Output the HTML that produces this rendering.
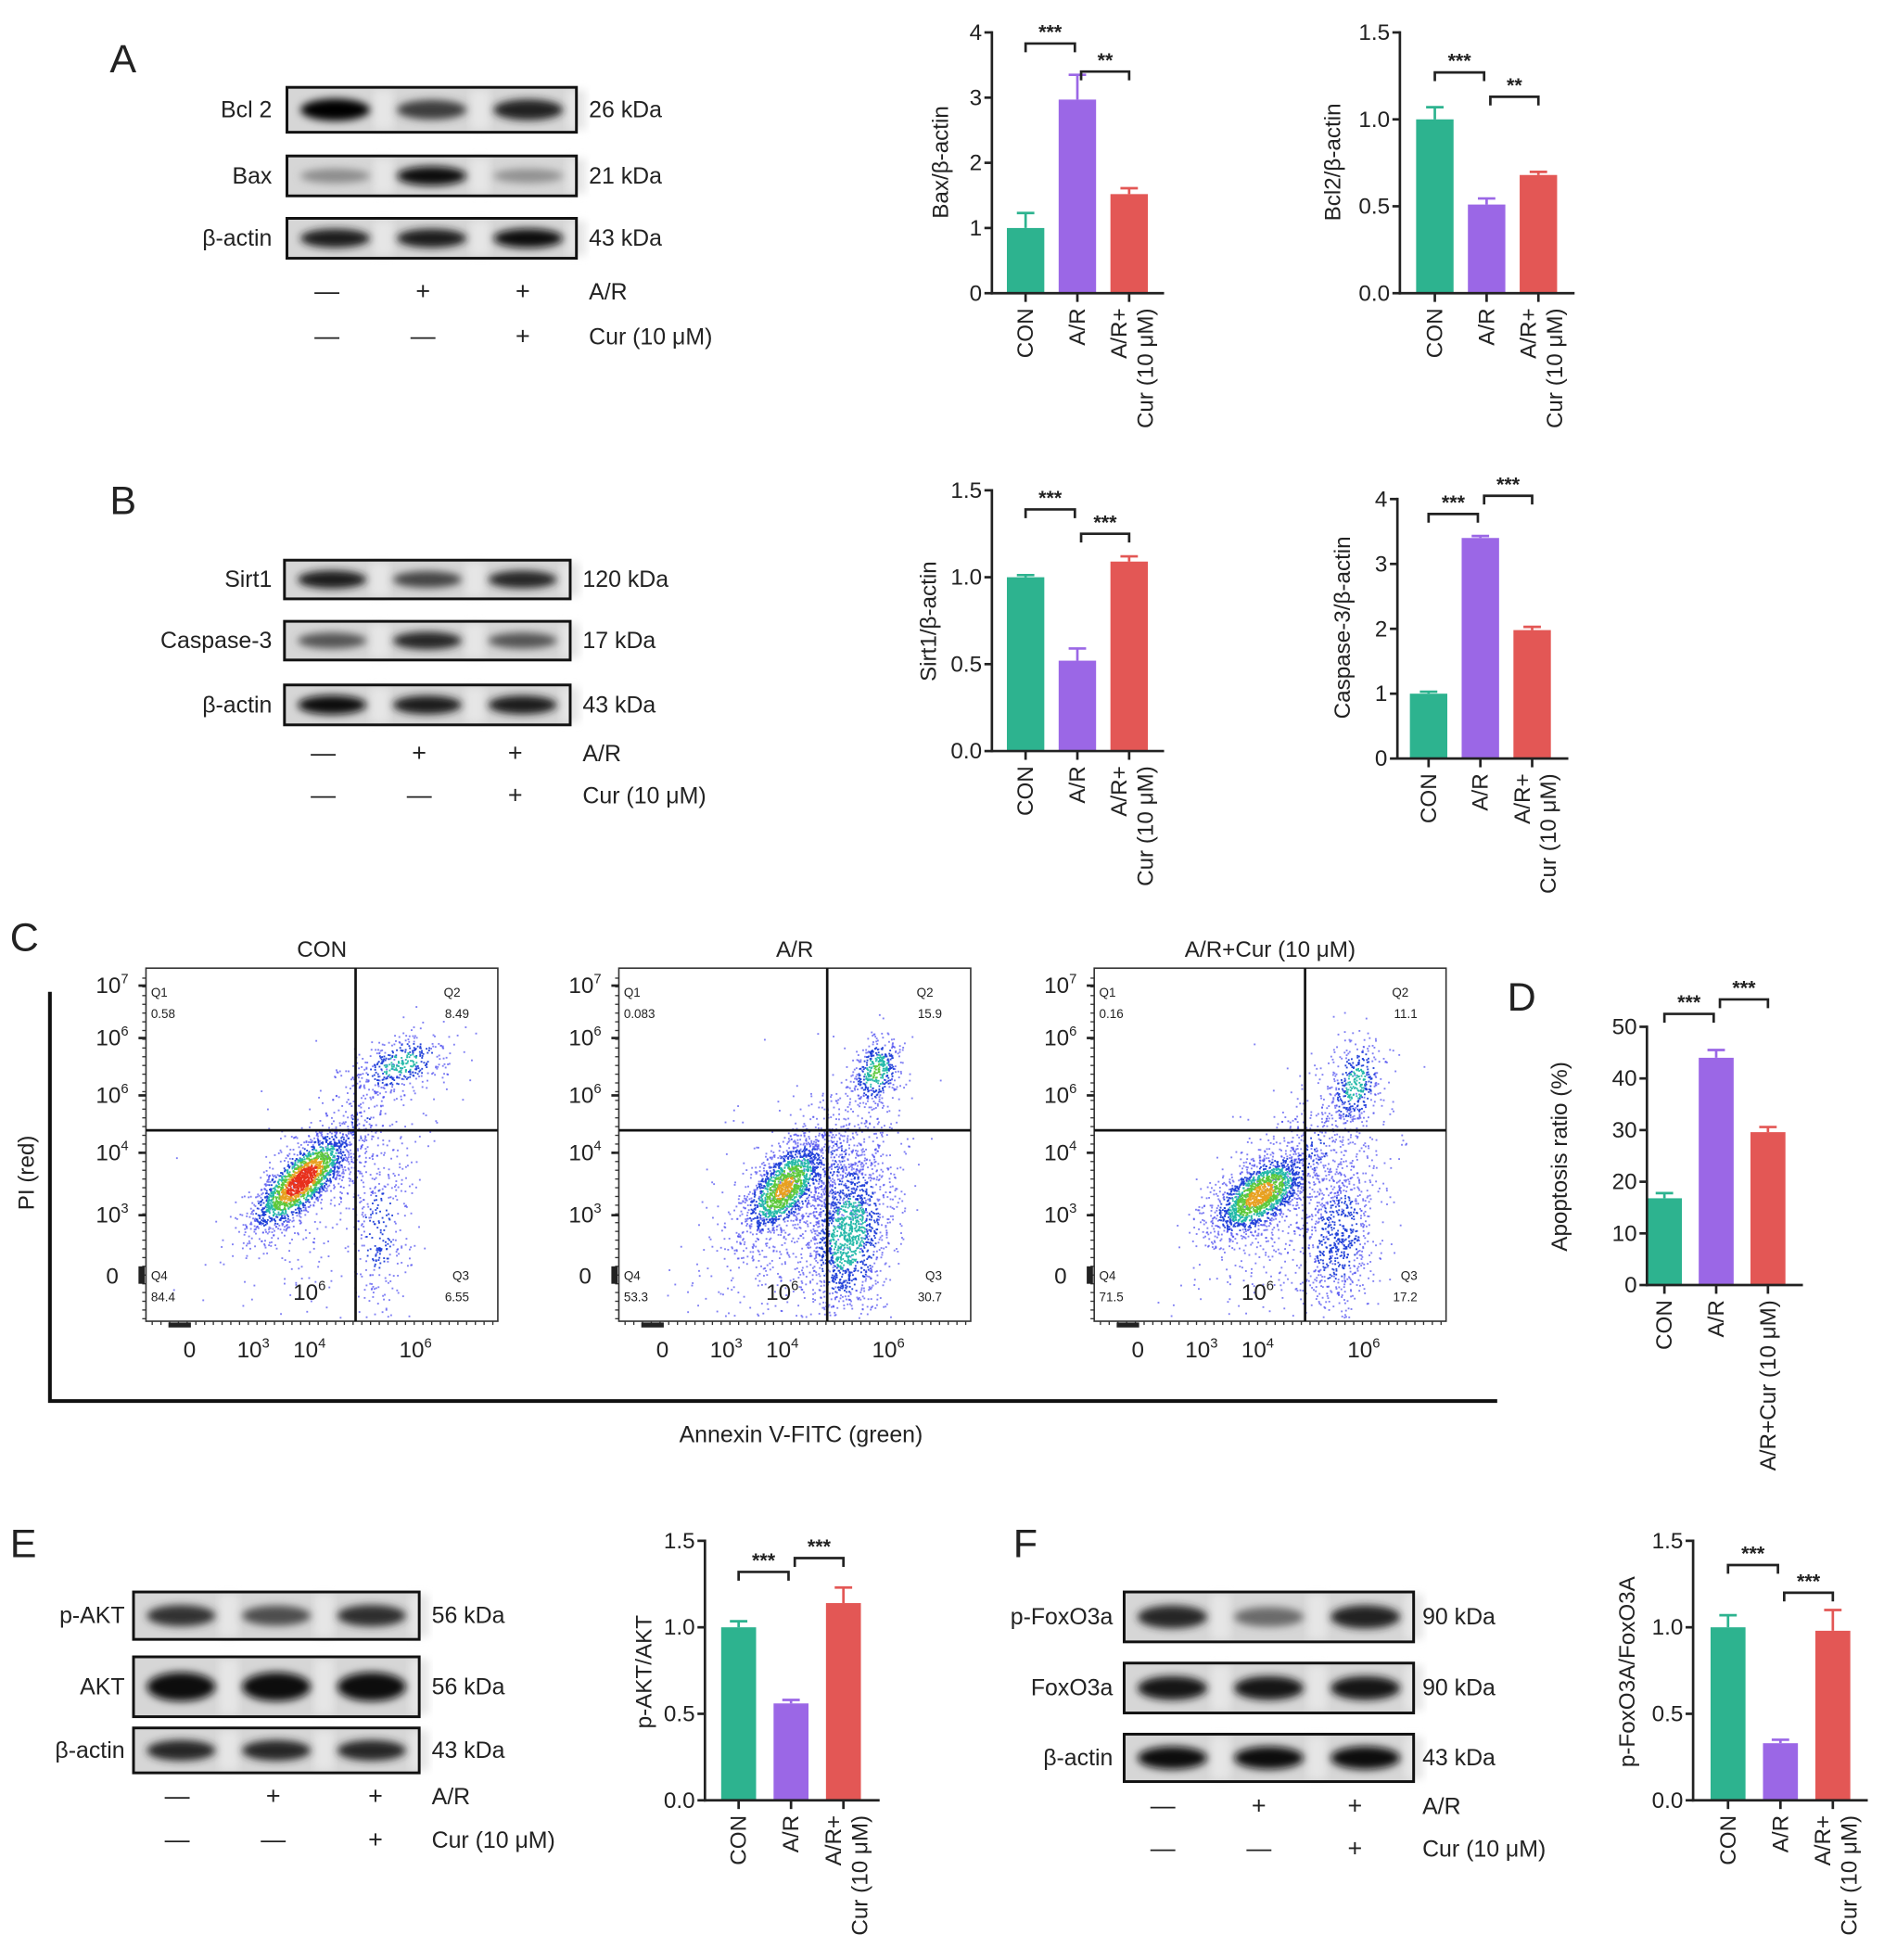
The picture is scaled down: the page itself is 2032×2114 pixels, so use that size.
<!DOCTYPE html>
<html><head><meta charset="utf-8">
<style>
html,body{margin:0;padding:0;background:#fff;}
svg{display:block;}
text{font-family:"Liberation Sans",Arial,sans-serif;fill:#222;}
</style></head>
<body>
<svg id="fig" xmlns="http://www.w3.org/2000/svg" width="2032" height="2114" viewBox="0 0 1510 1571" preserveAspectRatio="none">
<defs>
<filter id="blur" x="-20%" y="-60%" width="140%" height="220%"><feGaussianBlur stdDeviation="3.2"/></filter>
</defs>
<g id="root"></g>
</svg>
<script>
// ---------- DATA ----------
const groups = ["CON", "A/R", "A/R+Cur (10 μM)"];
const baxValues = [1.0, 2.97, 1.52];
const baxErrors = [0.23, 0.38, 0.09];
const baxTicks = [0, 1, 2, 3, 4];
const bcl2Values = [1.0, 0.51, 0.68];
const bcl2Errors = [0.07, 0.035, 0.018];
const bcl2Ticks = ["0.0", "0.5", "1.0", "1.5"];
const sirt1Values = [1.0, 0.52, 1.09];
const sirt1Errors = [0.012, 0.07, 0.03];
const sirt1Ticks = ["0.0", "0.5", "1.0", "1.5"];
const casp3Values = [1.0, 3.4, 1.98];
const casp3Errors = [0.03, 0.03, 0.05];
const casp3Ticks = [0, 1, 2, 3, 4];
const apoptosisValues = [16.8, 44.0, 29.6];
const apoptosisErrors = [1.0, 1.5, 1.0];
const apoptosisTicks = [0, 10, 20, 30, 40, 50];
const pAktValues = [1.0, 0.56, 1.14];
const pAktErrors = [0.035, 0.02, 0.09];
const pAktTicks = ["0.0", "0.5", "1.0", "1.5"];
const pFoxValues = [1.0, 0.33, 0.98];
const pFoxErrors = [0.07, 0.02, 0.12];
const pFoxTicks = ["0.0", "0.5", "1.0", "1.5"];
const quadCON = ["0.58", "8.49", "6.55", "84.4"];
const quadAR = ["0.083", "15.9", "30.7", "53.3"];
const quadCur = ["0.16", "11.1", "17.2", "71.5"];
// flow clusters: [cx, cy, sx, sy, corr, n, colorWeight] in relative box units
const clustersCON = [[0.44,0.60,0.07,0.07,0.75,2000,1.0],[0.72,0.27,0.07,0.045,0.4,380,0.45],[0.66,0.74,0.05,0.14,0.1,300,0.25],[0.6,0.45,0.08,0.1,0.5,200,0.2],[0.5,0.65,0.14,0.16,0.5,250,0.1]];
const clustersAR = [[0.47,0.62,0.06,0.07,0.6,1500,0.75],[0.73,0.29,0.035,0.05,0.3,420,0.55],[0.65,0.75,0.06,0.12,0.2,1400,0.5],[0.6,0.55,0.1,0.12,0.4,400,0.2],[0.5,0.72,0.14,0.16,0.4,500,0.1]];
const clustersCur = [[0.47,0.64,0.07,0.06,0.6,1700,0.8],[0.74,0.33,0.04,0.07,0.3,380,0.45],[0.69,0.76,0.06,0.12,0.2,700,0.3],[0.62,0.52,0.1,0.12,0.4,300,0.2],[0.52,0.7,0.14,0.15,0.4,350,0.1]];
// blot band intensities (0..1) per lane
const blotBcl2 = [1.0, 0.75, 0.88];
const blotBax = [0.4, 0.95, 0.38];
const blotActinA = [0.9, 0.9, 0.95];
const blotSirt1 = [0.9, 0.72, 0.85];
const blotCasp3 = [0.65, 0.85, 0.65];
const blotActinB = [0.95, 0.9, 0.9];
const blotPAkt = [0.8, 0.68, 0.82];
const blotAkt = [0.95, 0.95, 0.95];
const blotActinE = [0.85, 0.85, 0.85];
const blotPFox = [0.85, 0.55, 0.88];
const blotFox = [0.92, 0.92, 0.92];
const blotActinF = [0.95, 0.95, 0.97];

const COLORS = ["#2db38f", "#9b67e6", "#e35755"];
const NS = "http://www.w3.org/2000/svg";
const root = document.getElementById("root");

function el(tag, attrs, parent, txt) {
  const e = document.createElementNS(NS, tag);
  for (const k in attrs) e.setAttribute(k, attrs[k]);
  if (txt !== undefined) e.textContent = txt;
  (parent || root).appendChild(e);
  return e;
}
function label(x, y, s, size, anchor, name, parent, weight) {
  const t = el("text", {x: x, y: y, "font-size": size, "text-anchor": anchor || "start"}, parent, s);
  if (weight) t.setAttribute("font-weight", weight);
  
  
  return t;
}

// ---------- Panel letters ----------
[["A",88,58],["B",88,412],["C",8,762],["D",1208,810],["E",8,1248],["F",812,1248]].forEach(p => {
  label(p[1], p[2], p[0], 32, "start", "panel-label-" + p[0].toLowerCase());
});

// ---------- Western blots ----------
function blot(x, y, w, h, vals, name, bandH) {
  const g = el("g", {});
  
  
  el("rect", {x: x, y: y, width: w, height: h, fill: "#d6d6d6"}, g);
  const lw = w / 3;
  for (let i = 0; i < 3; i++) {
    el("rect", {x: x + lw * i + lw * 0.9, y: y + 2, width: lw * 0.2, height: h - 4, fill: "#e6e6e6", filter: "url(#blur)"}, g);
  }
  for (let i = 0; i < 3; i++) {
    const v = vals[i];
    const c = Math.round(230 - 225 * v);
    const bh = (bandH || h * 0.45) * (0.6 + 0.5 * v);
    const b = el("ellipse", {cx: x + lw * (i + 0.5), cy: y + h * 0.5, rx: lw * 0.36, ry: bh / 2, fill: `rgb(${c},${c},${c})`, filter: "url(#blur)"}, g);
    
    
  }
  el("rect", {x: x, y: y, width: w, height: h, fill: "none", stroke: "#111", "stroke-width": 2.2}, g);
}
function blotSet(rows, x, w, labelX, kdaX, signY, signXs, prefix) {
  rows.forEach(r => {
    blot(x, r[1], w, r[2], r[3], prefix + "-blot-" + r[5]);
    label(labelX, r[1] + r[2] / 2 + 6, r[0], 18.5, "end", prefix + "-label-" + r[5]);
    label(kdaX, r[1] + r[2] / 2 + 6, r[4], 18.5, "start", prefix + "-kda-" + r[5]);
  });
  const s1 = ["—", "+", "+"], s2 = ["—", "—", "+"];
  for (let i = 0; i < 3; i++) {
    label(signXs[i], signY[0] + 6, s1[i], 20, "middle", prefix + "-ar-sign-" + (i + 1));
    label(signXs[i], signY[1] + 6, s2[i], 20, "middle", prefix + "-cur-sign-" + (i + 1));
  }
  label(kdaX, signY[0] + 6, "A/R", 18.5, "start", prefix + "-ar-label");
  label(kdaX, signY[1] + 6, "Cur (10 μM)", 18.5, "start", prefix + "-cur-label");
}
blotSet([["Bcl 2",70,36,blotBcl2,"26 kDa","bcl2"],["Bax",125,32,blotBax,"21 kDa","bax"],["β-actin",175,32,blotActinA,"43 kDa","actin"]],
  230, 232, 218, 472, [234, 270], [262, 339, 419], "a");
blotSet([["Sirt1",449,31,blotSirt1,"120 kDa","sirt1"],["Caspase-3",498,31,blotCasp3,"17 kDa","casp3"],["β-actin",549,32,blotActinB,"43 kDa","actin"]],
  228, 229, 218, 467, [604, 638], [259, 336, 413], "b");
blotSet([["p-AKT",1276,38,blotPAkt,"56 kDa","pakt"],["AKT",1328,48,blotAkt,"56 kDa","akt"],["β-actin",1385,36,blotActinE,"43 kDa","actin"]],
  107, 229, 100, 346, [1440, 1475], [142, 219, 301], "e");
blotSet([["p-FoxO3a",1276,40,blotPFox,"90 kDa","pfox"],["FoxO3a",1333,40,blotFox,"90 kDa","fox"],["β-actin",1390,38,blotActinF,"43 kDa","actin"]],
  901, 232, 892, 1140, [1448, 1482], [932, 1009, 1086], "f");

// ---------- Bar charts ----------
function barChart(o) {
  const g = el("g", {});
  
  
  const yScale = v => o.y0 - (v / o.max) * (o.y0 - o.yTop);
  const xScale = i => o.x0 + o.first + i * o.step;
  o.values.forEach((v, i) => {
    const cx = xScale(i), bw = o.bw || 30;
    const r = el("rect", {x: cx - bw / 2, y: yScale(v), width: bw, height: o.y0 - yScale(v), fill: COLORS[i]}, g);
    
    
    const top = yScale(v + o.errs[i]);
    const e = el("path", {d: `M${cx},${yScale(v)}V${top}M${cx - 7},${top}H${cx + 7}`, stroke: COLORS[i], "stroke-width": 2, fill: "none"}, g);
    
    
    el("line", {x1: cx, y1: o.y0, x2: cx, y2: o.y0 + 7, stroke: "#222", "stroke-width": 2}, g);
  });
  const ya = el("line", {x1: o.x0, y1: o.yTop - 1, x2: o.x0, y2: o.y0 + 1, stroke: "#222", "stroke-width": 2}, g);
  
  
  const xa = el("line", {x1: o.x0 - 1, y1: o.y0, x2: o.xEnd, y2: o.y0, stroke: "#222", "stroke-width": 2}, g);
  
  
  o.ticks.forEach(t => {
    const y = yScale(parseFloat(t));
    el("line", {x1: o.x0 - 6, y1: y, x2: o.x0, y2: y, stroke: "#222", "stroke-width": 2}, g);
    label(o.x0 - 8, y + 6, String(t), 18, "end", o.name + "-y-tick-label", g);
  });
  const tt = label(0, 0, o.title, 18, "middle", o.name + "-y-axis-title", g);
  tt.setAttribute("transform", `translate(${o.titleX},${o.titleY}) rotate(-90)`);
  groups.forEach((gname, i) => {
    const cx = xScale(i);
    const yy = o.y0 + 12;
    let lines;
    if (i === 2 && !o.oneLine) lines = ["A/R+", "Cur (10 μM)"]; else lines = [gname];
    lines.forEach((s, k) => {
      const off = lines.length === 2 ? (k === 0 ? -2 : 19) : 6;
      const t = label(0, 0, s, 18, "end", o.name + "-x-label-" + (i + 1), g);
      t.setAttribute("transform", `translate(${cx + off},${yy}) rotate(-90)`);
    });
  });
  o.sig.forEach((s, k) => {
    const xa1 = xScale(s[0]) + (s[0] === 0 ? 0 : 3), xb = xScale(s[1]) - (s[0] === 0 ? 2 : 0);
    const y = yScale(s[2]);
    const p = el("path", {d: `M${xa1},${y + 7}V${y}H${xb}V${y + 7}`, stroke: "#222", "stroke-width": 2, fill: "none"}, g);
    
    
    label((xa1 + xb) / 2, y - 4, s[3], 16, "middle", o.name + "-significance-stars-" + (k + 1), g, "bold");
  });
}
barChart({name:"bax-chart", x0:795, y0:235, yTop:26, max:4, first:27, step:41.5, xEnd:933, values:baxValues, errs:baxErrors, ticks:baxTicks,
  title:"Bax/β-actin", titleX:760, titleY:130, sig:[[0,1,3.83,"***"],[1,2,3.4,"**"]]});
barChart({name:"bcl2-chart", x0:1122, y0:235, yTop:26, max:1.5, first:28, step:41.5, xEnd:1262, values:bcl2Values, errs:bcl2Errors, ticks:bcl2Ticks,
  title:"Bcl2/β-actin", titleX:1074, titleY:130, sig:[[0,1,1.27,"***"],[1,2,1.13,"**"]]});
barChart({name:"sirt1-chart", x0:795, y0:602, yTop:393, max:1.5, first:27, step:41.5, xEnd:933, values:sirt1Values, errs:sirt1Errors, ticks:sirt1Ticks,
  title:"Sirt1/β-actin", titleX:750, titleY:498, sig:[[0,1,1.39,"***"],[1,2,1.25,"***"]]});
barChart({name:"caspase3-chart", x0:1120, y0:608, yTop:400, max:4, first:25, step:41.5, xEnd:1257, values:casp3Values, errs:casp3Errors, ticks:casp3Ticks,
  title:"Caspase-3/β-actin", titleX:1082, titleY:503, sig:[[0,1,3.77,"***"],[1,2,4.05,"***"]]});
barChart({name:"apoptosis-chart", x0:1320, y0:1030, yTop:823, max:50, first:14, step:41.5, bw:28, xEnd:1445, values:apoptosisValues, errs:apoptosisErrors, ticks:apoptosisTicks,
  title:"Apoptosis ratio (%)", titleX:1256, titleY:927, oneLine:true, sig:[[0,1,52.5,"***"],[1,2,55.3,"***"]]});
barChart({name:"pakt-chart", x0:565, y0:1443, yTop:1235, max:1.5, first:27, step:42, bw:28, xEnd:705, values:pAktValues, errs:pAktErrors, ticks:pAktTicks,
  title:"p-AKT/AKT", titleX:522, titleY:1340, sig:[[0,1,1.32,"***"],[1,2,1.4,"***"]]});
barChart({name:"pfoxo3a-chart", x0:1357, y0:1443, yTop:1235, max:1.5, first:28, step:42, bw:28, xEnd:1497, values:pFoxValues, errs:pFoxErrors, ticks:pFoxTicks,
  title:"p-FoxO3A/FoxO3A", titleX:1310, titleY:1340, sig:[[0,1,1.36,"***"],[1,2,1.2,"***"]]});

// ---------- Flow cytometry ----------
function rng(seed) { return function() { seed |= 0; seed = seed + 0x6D2B79F5 | 0; let t = Math.imul(seed ^ seed >>> 15, 1 | seed); t = t + Math.imul(t ^ t >>> 7, 61 | t) ^ t; return ((t ^ t >>> 14) >>> 0) / 4294967296; }; }
function gauss(r) { let u = 0, v = 0; while (u === 0) u = r(); v = r(); return Math.sqrt(-2 * Math.log(u)) * Math.cos(2 * Math.PI * v); }
function sup(t, base, exp) {
  el("tspan", {}, t, base);
  el("tspan", {dy: -8, "font-size": 11}, t, exp);
}
function flowPlot(bx, title, clusters, quads, gateX, name, seed) {
  const g = el("g", {});
  
  
  const by = 776, w = 282, h = 283;
  el("rect", {x: bx, y: by, width: w, height: h, fill: "#fff"}, g);
  label(bx + w / 2, 767, title, 18, "middle", name + "-title", g);
  const r = rng(seed);
  const pg = el("g", {}, g);
  
  
  const pts = [];
  clusters.forEach(c => {
    for (let i = 0; i < c[5]; i++) {
      const a = gauss(r), b = gauss(r);
      const dx = a, dy = c[4] * a + Math.sqrt(1 - c[4] * c[4]) * b;
      const px = c[0] + c[2] * dx, py = c[1] - c[3] * dy;
      if (px < 0.01 || px > 0.99 || py < 0.01 || py > 0.99) continue;
      const d = Math.sqrt(a * a + b * b);
      pts.push([px, py, Math.exp(-d * d / 2) * c[6]]);
    }
  });
  pts.sort((p, q) => p[2] - q[2]);
  pts.forEach(p => {
    const v = p[2];
    let col;
    if (v > 0.82) col = "#e8301c"; else if (v > 0.68) col = "#e8a020"; else if (v > 0.5) col = "#5cc83a"; else if (v > 0.35) col = "#22b8a8"; else if (v > 0.18) col = "#1e3ed8"; else col = "#4a4af0";
    el("rect", {x: (bx + p[0] * w).toFixed(1), y: (by + p[1] * h).toFixed(1), width: 1.4, height: 1.4, fill: col, opacity: v > 0.18 ? 0.95 : 0.7}, pg);
  });
  el("rect", {x: bx, y: by, width: w, height: h, fill: "none", stroke: "#333", "stroke-width": 1.2}, g);
  const vg = el("line", {x1: gateX, y1: by, x2: gateX, y2: by + h, stroke: "#111", "stroke-width": 2}, g);
  
  
  const hg = el("line", {x1: bx, y1: 906, x2: bx + w, y2: 906, stroke: "#111", "stroke-width": 2}, g);
  
  
  label(bx + 4, 799, "Q1", 10, "start", name + "-q1", g);
  label(bx + 4, 816, quads[0], 10, "start", name + "-q1-value", g);
  label(bx + w - 30, 799, "Q2", 10, "end", name + "-q2", g);
  label(bx + w - 23, 816, quads[1], 10, "end", name + "-q2-value", g);
  label(bx + w - 23, 1026, "Q3", 10, "end", name + "-q3", g);
  label(bx + w - 23, 1043, quads[2], 10, "end", name + "-q3-value", g);
  label(bx + 4, 1026, "Q4", 10, "start", name + "-q4", g);
  label(bx + 4, 1043, quads[3], 10, "start", name + "-q4-value", g);
  const yt = [["7", 790], ["6", 832], ["6", 878], ["4", 924], ["3", 974]];
  yt.forEach(t => {
    const tx = label(bx - 14, t[1] + 6, "", 18, "end", name + "-y-tick-label", g);
    sup(tx, "10", t[0]);
    el("line", {x1: bx - 6, y1: t[1], x2: bx, y2: t[1], stroke: "#222", "stroke-width": 2}, g);
  });
  label(bx - 22, 1029, "0", 18, "end", name + "-y-tick-zero", g);
  for (let y = by + 8; y < by + h; y += 7) el("line", {x1: bx - 3, y1: y, x2: bx, y2: y, stroke: "#333", "stroke-width": 1}, g);
  el("rect", {x: bx - 6, y: 1015, width: 5, height: 14, fill: "#222"}, g);
  for (let x = bx + 5; x < bx + w; x += 7) el("line", {x1: x, y1: by + h, x2: x, y2: by + h + 3, stroke: "#333", "stroke-width": 1}, g);
  el("rect", {x: bx + 18, y: by + h + 1, width: 18, height: 4, fill: "#222"}, g);
  label(bx + 35, 1088, "0", 18, "middle", name + "-x-tick-zero", g);
  [["3", 86], ["4", 131], ["6", 216]].forEach(t => {
    const tx = label(bx + t[1], 1088, "", 18, "middle", name + "-x-tick-label", g);
    sup(tx, "10", t[0]);
  });
  const inner = label(bx + 131, 1042, "", 18, "middle", name + "-inner-label", g);
  sup(inner, "10", "6");
}
flowPlot(117, "CON", clustersCON, quadCON, 285, "flow-con", 11);
flowPlot(496, "A/R", clustersAR, quadAR, 663, "flow-ar", 23);
flowPlot(877, "A/R+Cur (10 μM)", clustersCur, quadCur, 1046, "flow-cur", 37);
const bigAxis = el("path", {d: "M40,795V1123H1200", stroke: "#111", "stroke-width": 3, fill: "none"});


const pi = label(0, 0, "PI (red)", 18, "middle", "flow-y-axis-title");
pi.setAttribute("transform", "translate(27,940) rotate(-90)");
label(642, 1156, "Annexin V-FITC (green)", 18.5, "middle", "flow-x-axis-title");
</script>
</body></html>
